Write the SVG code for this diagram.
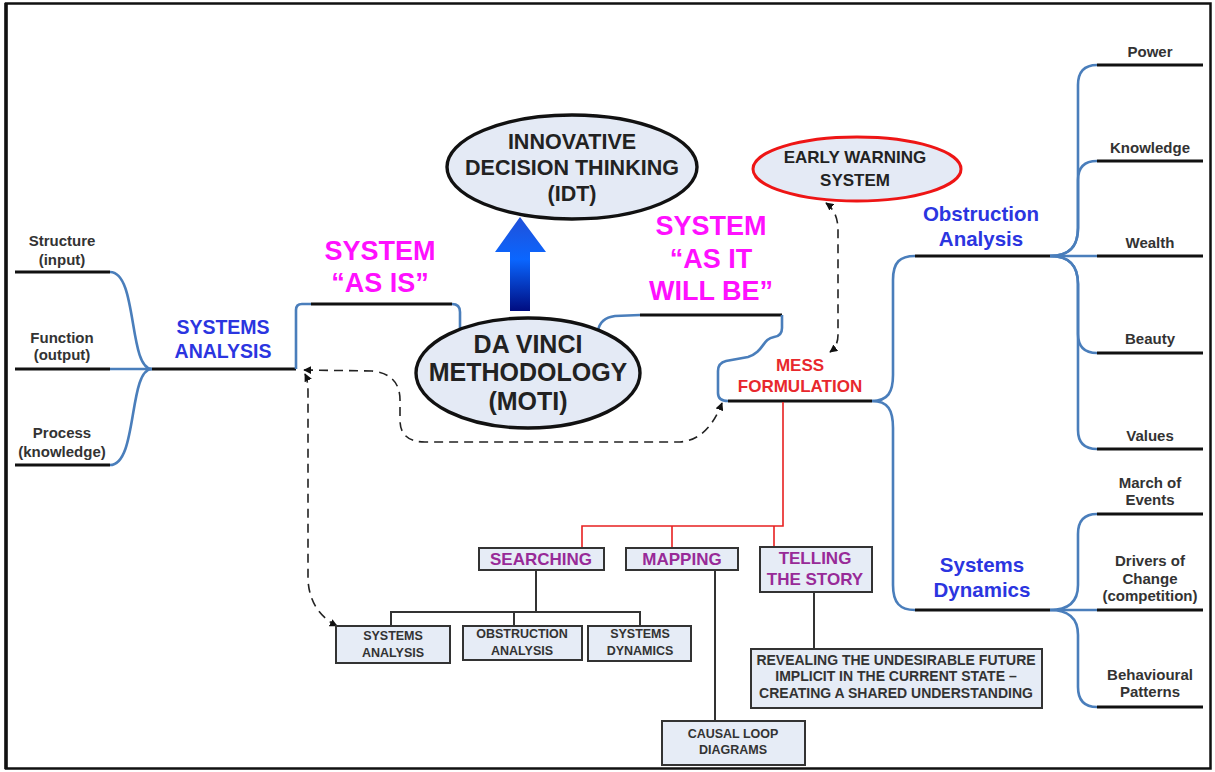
<svg xmlns="http://www.w3.org/2000/svg" width="1215" height="772" viewBox="0 0 1215 772">
<style>
text{font-family:"Liberation Sans",Arial,sans-serif;font-weight:bold;text-anchor:middle}
.lbl{font-size:15px;fill:#333}
.bl{fill:#2b35e0}
.mag{font-size:27px;fill:#ff10ff}
.pur{font-size:17px;fill:#982a98}
.box{fill:#e6ecf6;stroke:#333;stroke-width:2}
.bt{font-size:12.5px;fill:#333}
.rv{font-size:14px;fill:#333}
.ell{fill:#e4eaf5;stroke:#111;stroke-width:3.4}
.et{fill:#222}
.k{stroke:#111;stroke-width:3.2;fill:none}
.b{stroke:#4a7ebb;stroke-width:2.6;fill:none}
.r{stroke:#e82020;stroke-width:1.6;fill:none}
.t{stroke:#333;stroke-width:2;fill:none}
.d{stroke:#222;stroke-width:1.6;fill:none;stroke-dasharray:9 6;marker-start:url(#ah);marker-end:url(#ah)}
</style>
<defs>
<marker id="ah" viewBox="0 0 10 10" refX="9" refY="5" markerWidth="8" markerHeight="8" orient="auto-start-reverse" markerUnits="userSpaceOnUse"><path d="M0,0 L10,5 L0,10 Z" fill="#111"/></marker>
<linearGradient id="ag" x1="0" y1="0" x2="0" y2="1">
<stop offset="0" stop-color="#2150d8"/><stop offset="0.45" stop-color="#0a66ff"/><stop offset="1" stop-color="#000c80"/>
</linearGradient>
</defs>
<rect x="0" y="0" width="1215" height="772" fill="#fff"/>
<rect x="6" y="3.5" width="1204.5" height="765" fill="none" stroke="#111" stroke-width="2.5"/>
<line x1="6" y1="3" x2="6" y2="769" stroke="#111" stroke-width="3.5"/>

<g id="connectors">
<line class="k" x1="15" y1="272" x2="110" y2="272"/>
<line class="k" x1="15" y1="369" x2="110" y2="369"/>
<line class="k" x1="15" y1="465" x2="110" y2="465"/>
<path class="b" d="M110,272 C138,272 128,369 152,369"/>
<path class="b" d="M110,369 L152,369"/>
<path class="b" d="M110,465 C138,465 128,369 152,369"/>
<line class="k" x1="152" y1="369" x2="296" y2="369"/>
<path class="b" d="M296,369 L296,310 Q296,304 302,304 L311,304"/>
<line class="k" x1="311" y1="304" x2="452" y2="304"/>
<path class="b" d="M452,304 Q460,304 460,312 L460,329"/>
<path class="b" d="M598,331 Q600,318 615,316 L640,315"/>
<line class="k" x1="640" y1="315" x2="782" y2="315"/>
<path class="b" d="M782,315 L782,328 Q782,336 774,337 C762,339 764,352 748,357 L726,361 Q718,363 718,371 L718,393 Q718,401 728,401"/>
<line class="k" x1="728" y1="401" x2="872" y2="401"/>
<path class="b" d="M872,401 C888,401 893,392 893,375 L893,280 C893,262 900,256 915,256"/>
<path class="b" d="M872,401 C888,401 893,410 893,428 L893,585 C893,603 900,610 915,610"/>
<line class="k" x1="915" y1="256" x2="1050" y2="256"/>
<line class="k" x1="915" y1="610" x2="1050" y2="610"/>
<path class="b" d="M1050,256 C1070,256 1078,246 1078,228 L1078,85 C1078,72 1084,65 1097,65"/>
<path class="b" d="M1050,256 C1070,256 1078,246 1078,228 L1078,180 C1078,168 1084,161 1097,161"/>
<path class="b" d="M1050,256 L1097,256"/>
<path class="b" d="M1050,256 C1070,256 1078,266 1078,284 L1078,334 C1078,346 1084,353 1097,353"/>
<path class="b" d="M1050,256 C1070,256 1078,266 1078,284 L1078,430 C1078,442 1084,449 1097,449"/>
<line class="k" x1="1097" y1="65" x2="1203" y2="65"/>
<line class="k" x1="1097" y1="161" x2="1203" y2="161"/>
<line class="k" x1="1097" y1="256" x2="1203" y2="256"/>
<line class="k" x1="1097" y1="353" x2="1203" y2="353"/>
<line class="k" x1="1097" y1="449" x2="1203" y2="449"/>
<path class="b" d="M1050,610 C1070,610 1078,600 1078,585 L1078,534 C1078,521 1084,514 1097,514"/>
<path class="b" d="M1050,610 L1097,610"/>
<path class="b" d="M1050,610 C1070,610 1078,620 1078,635 L1078,687 C1078,700 1084,707 1097,707"/>
<line class="k" x1="1097" y1="514" x2="1203" y2="514"/>
<line class="k" x1="1097" y1="610" x2="1203" y2="610"/>
<line class="k" x1="1097" y1="707" x2="1203" y2="707"/>
<path class="r" d="M783,402 L783,526 L582,526 L582,548"/>
<line class="r" x1="672" y1="526" x2="672" y2="548"/>
<line class="r" x1="774" y1="526" x2="774" y2="548"/>
<path class="t" d="M536,570 L536,612"/>
<path class="t" d="M391,626 L391,612 L640,612 L640,626"/>
<line class="t" x1="514" y1="612" x2="514" y2="626"/>
<line class="t" x1="715" y1="570" x2="715" y2="721"/>
<line class="t" x1="814" y1="592" x2="814" y2="649"/>
<path class="d" d="M304,370 L372,371 Q400,374 400,400 L400,420 Q400,442 425,442 L680,442 Q708,440 722,403"/>
<path class="d" d="M305,374 Q308,380 308,392 L308,580 Q310,612 337,626"/>
<path class="d" d="M826,203 Q838,212 838,230 L838,335 Q838,346 830,352"/>
<path d="M510,311 L510,252 L495,252 L520,217 L546,252 L530,252 L530,311 Z" fill="url(#ag)"/>
</g>

<g id="left-labels">
<text class="lbl" x="62" y="246">Structure</text>
<text class="lbl" x="62" y="265">(input)</text>
<text class="lbl" x="62" y="343">Function</text>
<text class="lbl" x="62" y="360">(output)</text>
<text class="lbl" x="62" y="438">Process</text>
<text class="lbl" x="62" y="457">(knowledge)</text>
</g>
<g id="systems-analysis">
<text class="bl" x="223" y="334" font-size="19.5">SYSTEMS</text>
<text class="bl" x="223" y="358" font-size="19.5">ANALYSIS</text>
</g>
<g id="as-is">
<text class="mag" x="380" y="260">SYSTEM</text>
<text class="mag" x="380" y="292">“AS IS”</text>
</g>
<g id="as-will-be">
<text class="mag" x="711" y="235">SYSTEM</text>
<text class="mag" x="711" y="268">“AS IT</text>
<text class="mag" x="711" y="300">WILL BE”</text>
</g>
<g id="idt">
<ellipse class="ell" cx="572" cy="167" rx="125" ry="52"/>
<text class="et" x="572" y="149" font-size="21.5">INNOVATIVE</text>
<text class="et" x="572" y="175" font-size="21.5">DECISION THINKING</text>
<text class="et" x="572" y="201" font-size="21.5">(IDT)</text>
</g>
<g id="moti">
<ellipse class="ell" cx="528" cy="373" rx="112" ry="55"/>
<text class="et" x="528" y="353" font-size="25">DA VINCI</text>
<text class="et" x="528" y="381" font-size="25">METHODOLOGY</text>
<text class="et" x="528" y="410" font-size="25">(MOTI)</text>
</g>
<g id="early-warning">
<ellipse cx="857" cy="169" rx="104" ry="32" fill="#e4eaf5" stroke="#ee1515" stroke-width="3"/>
<text class="et" x="855" y="163" font-size="17">EARLY WARNING</text>
<text class="et" x="855" y="186" font-size="17">SYSTEM</text>
</g>
<g id="mess">
<text x="800" y="371" font-size="17" fill="#e8282d">MESS</text>
<text x="800" y="392" font-size="17" fill="#e8282d">FORMULATION</text>
</g>
<g id="obstruction">
<text class="bl" x="981" y="221" font-size="20.5">Obstruction</text>
<text class="bl" x="981" y="246" font-size="20.5">Analysis</text>
</g>
<g id="sysdyn">
<text class="bl" x="982" y="572" font-size="20.5">Systems</text>
<text class="bl" x="982" y="597" font-size="20.5">Dynamics</text>
</g>
<g id="right-labels">
<text class="lbl" x="1150" y="57">Power</text>
<text class="lbl" x="1150" y="153">Knowledge</text>
<text class="lbl" x="1150" y="248">Wealth</text>
<text class="lbl" x="1150" y="344">Beauty</text>
<text class="lbl" x="1150" y="441">Values</text>
<text class="lbl" x="1150" y="488">March of</text>
<text class="lbl" x="1150" y="505">Events</text>
<text class="lbl" x="1150" y="566">Drivers of</text>
<text class="lbl" x="1150" y="584">Change</text>
<text class="lbl" x="1150" y="601">(competition)</text>
<text class="lbl" x="1150" y="680">Behavioural</text>
<text class="lbl" x="1150" y="697">Patterns</text>
</g>
<g id="searching">
<rect class="box" x="479" y="548" width="125" height="22"/>
<text class="pur" x="541" y="565">SEARCHING</text>
</g>
<g id="mapping">
<rect class="box" x="626" y="548" width="112" height="22"/>
<text class="pur" x="682" y="565">MAPPING</text>
</g>
<g id="telling">
<rect class="box" x="760" y="547" width="112" height="45"/>
<text class="pur" x="815" y="564">TELLING</text>
<text class="pur" x="815" y="585">THE STORY</text>
</g>
<g id="box-sa">
<rect class="box" x="336" y="626" width="114" height="37"/>
<text class="bt" x="393" y="640">SYSTEMS</text>
<text class="bt" x="393" y="657">ANALYSIS</text>
</g>
<g id="box-oa">
<rect class="box" x="463" y="626" width="119" height="34"/>
<text class="bt" x="522" y="638">OBSTRUCTION</text>
<text class="bt" x="522" y="655">ANALYSIS</text>
</g>
<g id="box-sd">
<rect class="box" x="588" y="626" width="103" height="35"/>
<text class="bt" x="640" y="638">SYSTEMS</text>
<text class="bt" x="640" y="655">DYNAMICS</text>
</g>
<g id="box-cld">
<rect class="box" x="662" y="721" width="143" height="44"/>
<text class="bt" x="733" y="738">CAUSAL LOOP</text>
<text class="bt" x="733" y="754">DIAGRAMS</text>
</g>
<g id="box-reveal">
<rect class="box" x="751" y="649" width="291" height="59"/>
<text class="rv" x="896" y="665">REVEALING THE UNDESIRABLE FUTURE</text>
<text class="rv" x="896" y="681">IMPLICIT IN THE CURRENT STATE –</text>
<text class="rv" x="896" y="698">CREATING A SHARED UNDERSTANDING</text>
</g>
</svg>
